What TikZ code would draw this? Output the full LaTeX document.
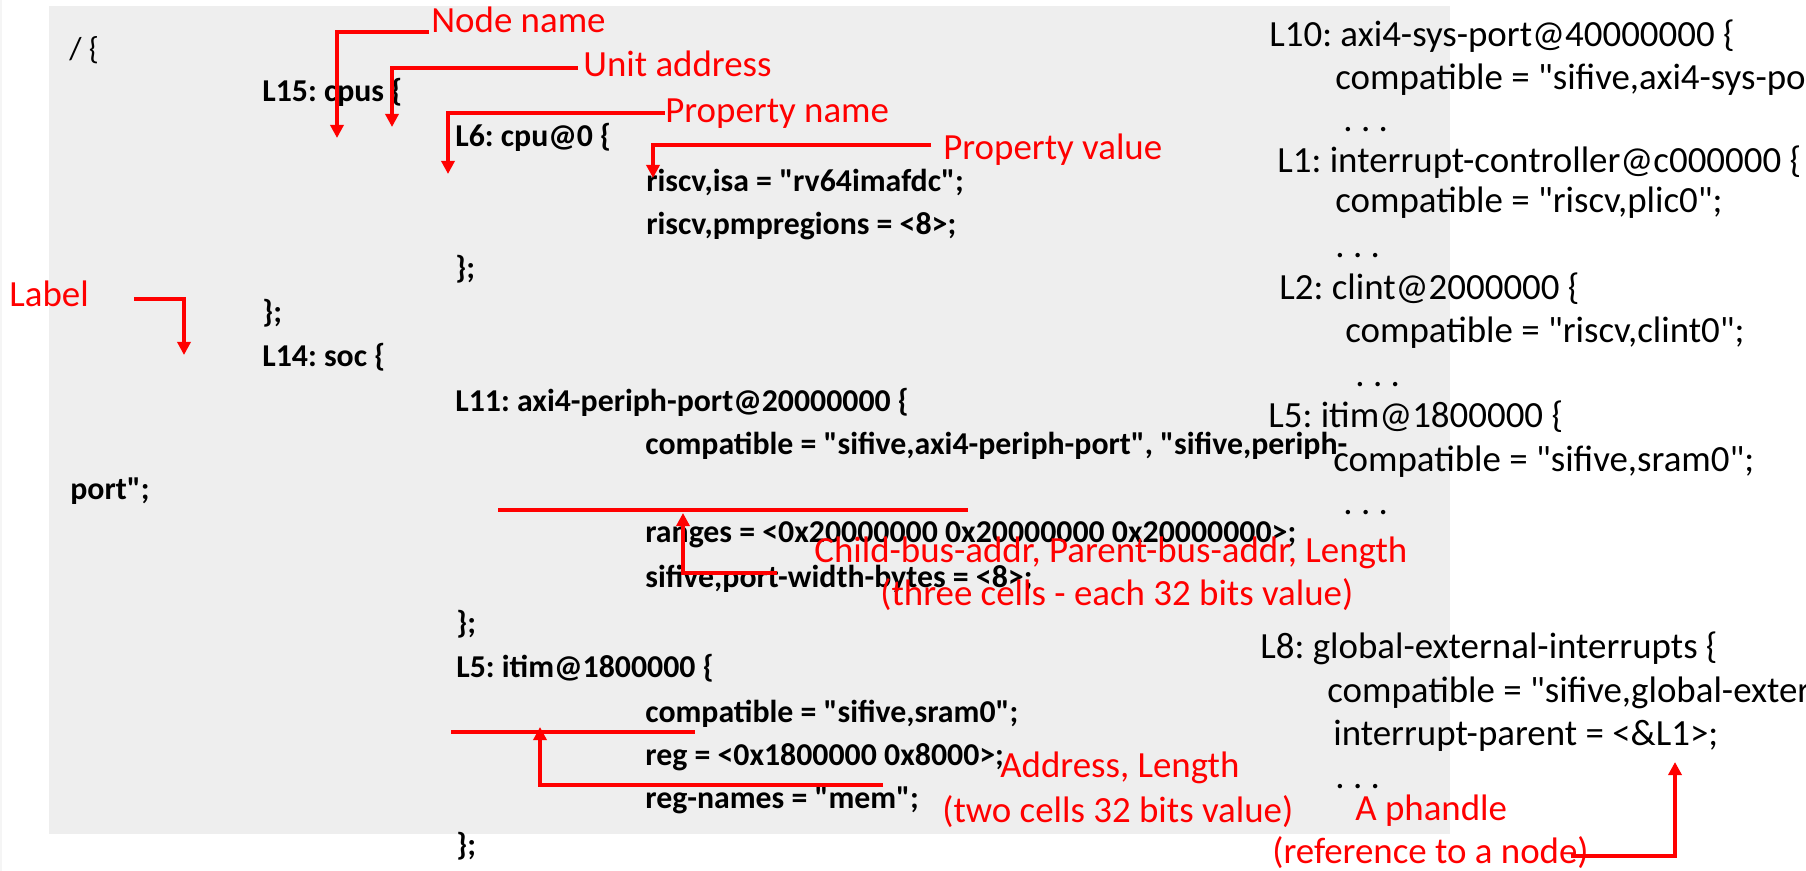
\documentclass[tikz,border=0pt]{standalone}
\usepackage{fontspec}
\setmainfont{Carlito}[Ligatures=TeXOff]
\usetikzlibrary{arrows.meta}
\definecolor{codebg}{HTML}{EEEEEE}
\frenchspacing

\begin{document}
\begin{tikzpicture}[
  x=0.02cm, y=-0.02cm,
  every node/.style={inner sep=0pt, anchor=base west},
  code/.style={font=\fontsize{18.1}{22}\selectfont\bfseries},
  dts/.style={font=\fontsize{21}{25}\selectfont},
  note/.style={font=\fontsize{21}{25}\selectfont, text=red},
  callout/.style={red, line width=1.9pt, -{Triangle[length=7.5pt, width=7.5pt]}},
  cellline/.style={red, line width=1.9pt}
]
\clip (0,0) rectangle (1806,871);
\fill[white] (0,0) rectangle (1806,871);
\fill[codebg!60] (0,0) rectangle (2,871);
\fill[codebg] (49,6) rectangle (1450,834);

% left: source listing
\def\codeln#1#2#3#4{\node[code] (#1) at (#2,#3) {#4};}
\node[code, font=\fontsize{18.1}{22}\selectfont] (root) at (69,60) {/ \{};
\codeln{cpus}{262}{102}{L15: cpus \{}
\codeln{cpu}{455}{147}{L6: cpu@0 \{}
\codeln{isa}{646}{192}{riscv,isa = "rv64imafdc";}
\codeln{pmp}{646}{235}{riscv,pmpregions = <8>;}
\codeln{cpuend}{455}{279}{\};}
\codeln{cpusend}{262}{323}{\};}
\codeln{soc}{262}{367}{L14: soc \{}
\codeln{periph}{455}{412}{L11: axi4-periph-port@20000000 \{}
\codeln{pcompat}{645}{455}{compatible = "sifive,axi4-periph-port", "sifive,periph-}
\codeln{pcompatb}{70}{500}{port";}
\codeln{ranges}{645}{542}{ranges = <0x20000000 0x20000000 0x20000000>;}
\codeln{pwidth}{645}{587}{sifive,port-width-bytes = <8>;}
\codeln{periphend}{456}{633}{\};}
\codeln{itim}{456}{677}{L5: itim@1800000 \{}
\codeln{itimcompat}{645}{722}{compatible = "sifive,sram0";}
\codeln{reg}{645}{765}{reg = <0x1800000 0x8000>;}
\codeln{regnames}{645}{808}{reg-names = "mem";}
\codeln{itimend}{456}{855}{\};}

% right: compiled tree
\def\dtsln#1#2#3#4{\node[dts] (#1) at (#2,#3) {#4};}
\dtsln{sysport}{1269}{47}{L10: axi4-sys-port@40000000 \{}
\dtsln{syscompat}{1335}{90}{compatible = "sifive,axi4-sys-port";}
\dtsln{sysdots}{1343}{132}{. . .}
\dtsln{plic}{1277}{173}{L1: interrupt-controller@c000000 \{}
\dtsln{pliccompat}{1335}{213}{compatible = "riscv,plic0";}
\dtsln{plicdots}{1335}{258}{. . .}
\dtsln{clint}{1279}{300}{L2: clint@2000000 \{}
\dtsln{clintcompat}{1345}{343}{compatible = "riscv,clint0";}
\dtsln{clintdots}{1355}{387}{. . .}
\dtsln{ritim}{1268}{428}{L5: itim@1800000 \{}
\dtsln{ritimcompat}{1333}{472}{compatible = "sifive,sram0";}
\dtsln{ritimdots}{1343}{515}{. . .}
\dtsln{gext}{1260}{658}{L8: global-external-interrupts \{}
\dtsln{gextcompat}{1327}{702}{compatible = "sifive,global-external-interrupts";}
\dtsln{gextparent}{1333}{745}{interrupt-parent = <\&L1>;}
\dtsln{gextdots}{1335}{788}{. . .}

% red notes
\node[note] (nnlbl) at (431,33) {Node name};
\node[note] (ualbl) at (583,77) {Unit address};
\node[note] (pnlbl) at (665,123) {Property name};
\node[note] (pvlbl) at (943,160) {Property value};
\node[note] (lbllbl) at (9,307) {Label};
\node[note] (rangeslbl) at (814,562) {Child-bus-addr, Parent-bus-addr, Length};
\node[note] (rangeslblb) at (880,605) {(three cells - each 32 bits value)};
\node[note] (reglbl) at (1000,777) {Address, Length};
\node[note] (reglblb) at (942,822) {(two cells 32 bits value)};
\node[note] (phlbl) at (1355,820) {A phandle};
\node[note] (phlblb) at (1272,863) {(reference to a node)};

% callouts
\coordinate (nn from) at (429,32);   \coordinate (nn tip) at (337,138);
\coordinate (ua from) at (578,68);   \coordinate (ua tip) at (392,127);
\coordinate (pn from) at (665,113);  \coordinate (pn tip) at (448,174);
\coordinate (pv from) at (931,145);  \coordinate (pv tip) at (653,178);
\coordinate (lb from) at (134,299);  \coordinate (lb tip) at (184,355);
\coordinate (rg from) at (777,573);  \coordinate (rg tip) at (683,513);
\coordinate (re from) at (883,785);  \coordinate (re tip) at (540,727);
\coordinate (ph from) at (1571,856); \coordinate (ph tip) at (1675,762);
\foreach \c in {nn,ua,pn,pv,lb,rg,re,ph}
  \draw[callout] (\c\space from) -| (\c\space tip);

\coordinate (rg a) at (498,510); \coordinate (rg b) at (968,510);
\coordinate (re a) at (451,732); \coordinate (re b) at (695,732);
\draw[cellline] (rg a) -- (rg b);
\draw[cellline] (re a) -- (re b);
\end{tikzpicture}
\end{document}
